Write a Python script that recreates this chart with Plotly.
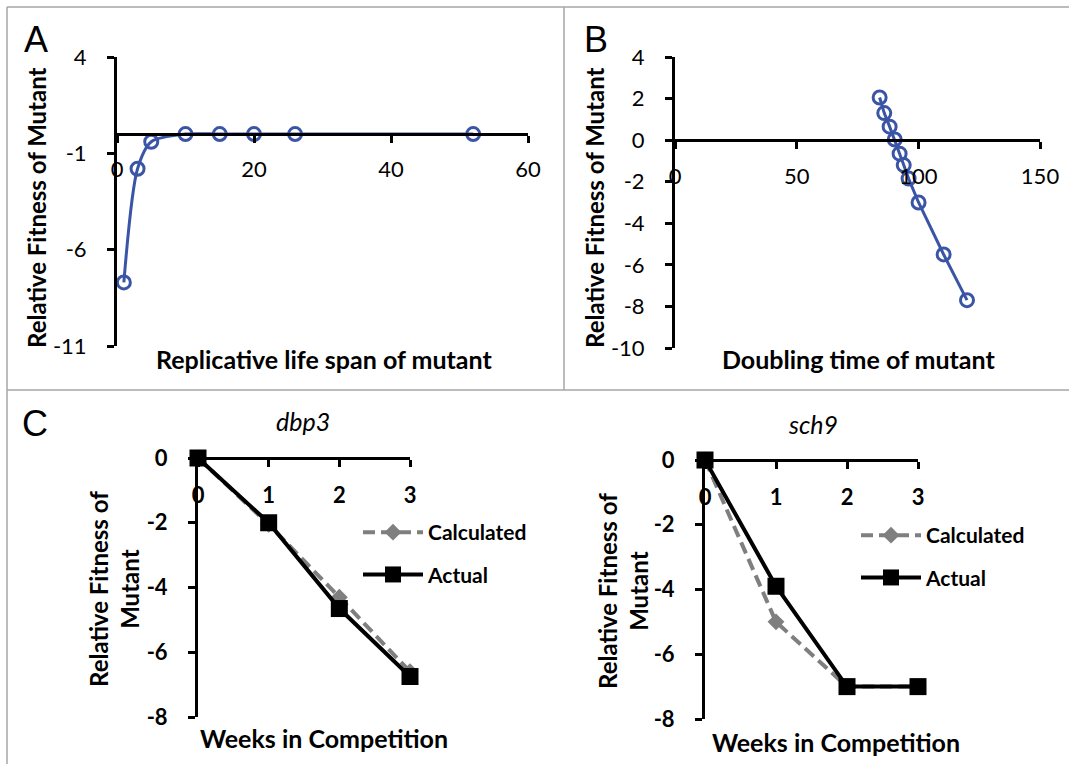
import plotly.graph_objects as go

W, H = 1069, 764

def fx(p):
    return p / W

def fy(p):
    return 1 - p / H

# ---------------- data ----------------
a_lifespan = [1, 3, 5, 10, 15, 20, 26, 52]
a_fitness = [-7.7, -1.8, -0.4, 0, 0, 0, 0, 0]

b_doubling = [84.1, 86.0, 88.2, 90.3, 92.3, 94.0, 96.0, 100.1, 110.4, 120.0]
b_fitness = [2.05, 1.3, 0.65, 0.03, -0.65, -1.2, -1.85, -3.0, -5.5, -7.7]

weeks = [0, 1, 2, 3]
dbp3_calculated = [0, -2.05, -4.3, -6.6]
dbp3_actual = [0, -2.0, -4.65, -6.75]
sch9_calculated = [0, -5.0, -7.0, -7.0]
sch9_actual = [0, -3.9, -7.0, -7.0]

a_xticks = [0, 20, 40, 60]
a_yticks = [4, -1, -6, -11]
b_xticks = [0, 50, 100, 150]
b_yticks = [4, 2, 0, -2, -4, -6, -8, -10]
c_xticks = [0, 1, 2, 3]
c_yticks = [0, -2, -4, -6, -8]


def labels(vals):
    return [str(v) for v in vals]


BLUE = "#3B55A6"
GRAY = "#7F7F7F"
FONT = "Lato"

fig = go.Figure()

fig.add_trace(go.Scatter(
    x=a_lifespan, y=a_fitness, xaxis="x", yaxis="y", mode="lines+markers",
    line=dict(color=BLUE, width=3, shape="spline", smoothing=0.8),
    marker=dict(symbol="circle-open", size=13, color=BLUE, line=dict(width=3, color=BLUE)),
    showlegend=False, cliponaxis=False))

fig.add_trace(go.Scatter(
    x=b_doubling, y=b_fitness, xaxis="x2", yaxis="y2", mode="lines+markers",
    line=dict(color=BLUE, width=3),
    marker=dict(symbol="circle-open", size=13, color=BLUE, line=dict(width=3, color=BLUE)),
    showlegend=False, cliponaxis=False))

DASH = "12px,6px"

fig.add_trace(go.Scatter(
    x=weeks, y=dbp3_calculated, xaxis="x3", yaxis="y3", mode="lines+markers",
    name="Calculated", legend="legend", legendgroup="calc",
    line=dict(color=GRAY, width=4, dash=DASH),
    marker=dict(symbol="diamond", size=13, color=GRAY),
    cliponaxis=False))
fig.add_trace(go.Scatter(
    x=weeks, y=dbp3_actual, xaxis="x3", yaxis="y3", mode="lines+markers",
    name="Actual", legend="legend", legendgroup="act",
    line=dict(color="black", width=4),
    marker=dict(symbol="square", size=17, color="black"),
    cliponaxis=False))

fig.add_trace(go.Scatter(
    x=weeks, y=sch9_calculated, xaxis="x4", yaxis="y4", mode="lines+markers",
    name="Calculated", legend="legend2", legendgroup="calc2",
    line=dict(color=GRAY, width=4, dash=DASH),
    marker=dict(symbol="diamond", size=13, color=GRAY),
    cliponaxis=False))
fig.add_trace(go.Scatter(
    x=weeks, y=sch9_actual, xaxis="x4", yaxis="y4", mode="lines+markers",
    name="Actual", legend="legend2", legendgroup="act2",
    line=dict(color="black", width=4),
    marker=dict(symbol="square", size=17, color="black"),
    cliponaxis=False))

axis_common = dict(showline=True, linecolor="black", linewidth=3, ticks="outside",
                   ticklen=7, tickwidth=3, tickcolor="black", showgrid=False,
                   zeroline=False, fixedrange=True, automargin=False)

tick_font_ab = dict(family=FONT, size=22, color="black")
tick_font_c = dict(family=FONT, size=22, color="black", weight="bold")

# panel geometry (pixels)
A_x0, A_x1, A_y0, A_y1 = 117, 528, 57, 346
B_x0, B_x1, B_y0, B_y1 = 675, 1040, 57, 348
C_x0, C_x1, C_y0, C_y1 = 198, 410, 458, 717
D_x0, D_x1, D_y0, D_y1 = 705, 918, 460, 719


def zero_pos(y0, y1, top, bottom):
    return fy(y0 + (y1 - y0) * top / (top - bottom))


fig.update_layout(
    template="none",
    width=W, height=H, autosize=False,
    margin=dict(l=0, r=0, t=0, b=0, pad=0, autoexpand=False),
    paper_bgcolor="white", plot_bgcolor="rgba(0,0,0,0)",
    font=dict(family=FONT, color="black"),
    xaxis=dict(**axis_common, domain=[fx(A_x0), fx(A_x1)], range=[0, 60],
               anchor="free", position=zero_pos(A_y0, A_y1, 4, -11),
               tickvals=a_xticks, ticktext=labels(a_xticks), tickfont=tick_font_ab,
               ticklabelstandoff=8),
    yaxis=dict(**axis_common, domain=[fy(A_y1), fy(A_y0)], range=[-11, 4],
               anchor="x", tickvals=a_yticks, ticktext=labels(a_yticks),
               tickfont=tick_font_ab, ticklabelstandoff=16),
    xaxis2=dict(**axis_common, domain=[fx(B_x0), fx(B_x1)], range=[0, 150],
                anchor="free", position=zero_pos(B_y0, B_y1, 4, -10),
                tickvals=b_xticks, ticktext=labels(b_xticks), tickfont=tick_font_ab,
                ticklabelstandoff=8),
    yaxis2=dict(**axis_common, domain=[fy(B_y1), fy(B_y0)], range=[-10, 4],
                anchor="x2", tickvals=b_yticks, ticktext=labels(b_yticks),
                tickfont=tick_font_ab, ticklabelstandoff=16),
    xaxis3=dict(**axis_common, domain=[fx(C_x0), fx(C_x1)], range=[0, 3],
                anchor="free", position=fy(C_y0),
                tickvals=c_xticks, ticktext=labels(c_xticks), tickfont=tick_font_c,
                ticklabelstandoff=10),
    yaxis3=dict(**axis_common, domain=[fy(C_y1), fy(C_y0)], range=[-8, 0],
                anchor="x3", tickvals=c_yticks, ticktext=labels(c_yticks),
                tickfont=tick_font_c, ticklabelstandoff=16),
    xaxis4=dict(**axis_common, domain=[fx(D_x0), fx(D_x1)], range=[0, 3],
                anchor="free", position=fy(D_y0),
                tickvals=c_xticks, ticktext=labels(c_xticks), tickfont=tick_font_c,
                ticklabelstandoff=10),
    yaxis4=dict(**axis_common, domain=[fy(D_y1), fy(D_y0)], range=[-8, 0],
                anchor="x4", tickvals=c_yticks, ticktext=labels(c_yticks),
                tickfont=tick_font_c, ticklabelstandoff=16),
    legend=dict(x=fx(358), y=fy(512), xanchor="left", yanchor="top",
                bgcolor="rgba(0,0,0,0)", borderwidth=0, itemwidth=60, tracegroupgap=12,
                traceorder="grouped",
                font=dict(family=FONT, size=21, color="black", weight="bold")),
    legend2=dict(x=fx(856), y=fy(515), xanchor="left", yanchor="top",
                 bgcolor="rgba(0,0,0,0)", borderwidth=0, itemwidth=60, tracegroupgap=12,
                 traceorder="grouped",
                 font=dict(family=FONT, size=21, color="black", weight="bold")),
)

border = dict(color="#A6A6A6", width=1.5)
shapes = [
    dict(type="line", xref="paper", yref="paper", x0=fx(7), x1=1, y0=fy(7), y1=fy(7), line=border),
    dict(type="line", xref="paper", yref="paper", x0=fx(7), x1=fx(7), y0=fy(7), y1=0, line=border),
    dict(type="line", xref="paper", yref="paper", x0=fx(7), x1=1, y0=fy(390), y1=fy(390), line=border),
    dict(type="line", xref="paper", yref="paper", x0=fx(564), x1=fx(564), y0=fy(7), y1=fy(390), line=border),
]
fig.update_layout(shapes=shapes)


def ann(text, x, y, size, bold=False, italic=False, angle=0, family=FONT):
    t = "<i>" + text + "</i>" if italic else text
    fig.add_annotation(text=t, x=fx(x), y=fy(y), xref="paper", yref="paper",
                       showarrow=False, textangle=angle, align="center",
                       xanchor="center", yanchor="middle",
                       font=dict(family=family, size=size, color="black",
                                 weight="bold" if bold else "normal"))


ann("A", 36, 40, 36, family="Liberation Sans")
ann("B", 596, 40, 36, family="Liberation Sans")
ann("C", 35, 423, 36, family="Liberation Sans")

ann("Relative Fitness of Mutant", 36, 208, 24, bold=True, angle=-90)
ann("Relative Fitness of Mutant", 594, 208, 24, bold=True, angle=-90)
ann("Replicative life span of mutant", 324, 359, 25, bold=True)
ann("Doubling time of mutant", 858, 359, 25, bold=True)

ann("dbp3", 303, 421, 25, italic=True)
ann("sch9", 813, 424, 25, italic=True)
ann("Relative Fitness of<br>Mutant", 114, 589, 24, bold=True, angle=-90)
ann("Relative Fitness of<br>Mutant", 623, 591, 24, bold=True, angle=-90)
ann("Weeks in Competition", 324, 738, 25, bold=True)
ann("Weeks in Competition", 836, 742, 25, bold=True)

fig.write_html("out.html")
